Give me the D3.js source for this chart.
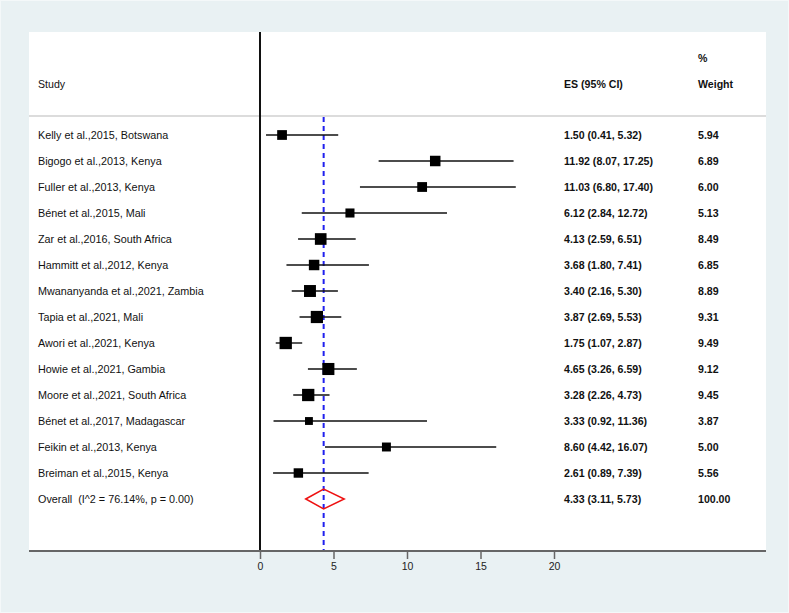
<!DOCTYPE html>
<html><head><meta charset="utf-8">
<script src="https://cdn.jsdelivr.net/npm/d3@7"></script>
<style>body{margin:0;padding:0;background:#e9f1f3;}svg{display:block;} text{white-space:pre;}</style>
</head><body>
<svg id="c" width="789" height="613"></svg>
<script>
const studies = ["Kelly et al.,2015, Botswana","Bigogo et al.,2013, Kenya","Fuller et al.,2013, Kenya","Bénet et al.,2015, Mali","Zar et al.,2016, South Africa","Hammitt et al.,2012, Kenya","Mwananyanda et al.,2021, Zambia","Tapia et al.,2021, Mali","Awori et al.,2021, Kenya","Howie et al.,2021, Gambia","Moore et al.,2021, South Africa","Bénet et al.,2017, Madagascar","Feikin et al.,2013, Kenya","Breiman et al.,2015, Kenya"];
const es = [1.50,11.92,11.03,6.12,4.13,3.68,3.40,3.87,1.75,4.65,3.28,3.33,8.60,2.61];
const lo = [0.41,8.07,6.80,2.84,2.59,1.80,2.16,2.69,1.07,3.26,2.26,0.92,4.42,0.89];
const hi = [5.32,17.25,17.40,12.72,6.51,7.41,5.30,5.53,2.87,6.59,4.73,11.36,16.07,7.39];
const weights = [5.94,6.89,6.00,5.13,8.49,6.85,8.89,9.31,9.49,9.12,9.45,3.87,5.00,5.56];
const overall = {label:"Overall  (I^2 = 76.14%, p = 0.00)", es:4.33, lo:3.11, hi:5.73, w:100.00};
const xTicks = [0,5,10,15,20];

const svg = d3.select("#c");
const font = "'Liberation Sans', Arial, sans-serif";
svg.append("rect").attr("x",0).attr("y",0).attr("width",789).attr("height",613).attr("fill","#e9f1f3");
svg.append("rect").attr("x",0.5).attr("y",0.5).attr("width",788).attr("height",612).attr("fill","none").attr("stroke","#f4f8f9");
const panel = {x0:29, x1:766, y0:32, y1:550};
svg.append("rect").attr("x",panel.x0).attr("y",panel.y0).attr("width",panel.x1-panel.x0).attr("height",panel.y1-panel.y0).attr("fill","#fff");

const x = d3.scaleLinear().domain([0,20]).range([260,554]);
const rows = studies.map((s,i)=>i).concat([studies.length]);
const y = d3.scalePoint().domain(rows).range([135,499]);

// header separator
svg.append("line").attr("x1",panel.x0).attr("x2",panel.x1).attr("y1",116).attr("y2",116).attr("stroke","#dcdcdc").attr("stroke-width",2);

// headers
const hdr = svg.append("g").attr("font-family",font).attr("font-size",10.6).attr("fill","#111");
hdr.append("text").attr("x",38).attr("y",88).text("Study");
hdr.append("text").attr("x",564).attr("y",88).attr("font-weight","bold").text("ES (95% CI)");
hdr.append("text").attr("x",698).attr("y",62).attr("font-weight","bold").text("%");
hdr.append("text").attr("x",698).attr("y",88).attr("font-weight","bold").text("Weight");

// null line
svg.append("line").attr("x1",x(0)).attr("x2",x(0)).attr("y1",panel.y0).attr("y2",panel.y1).attr("stroke","#111").attr("stroke-width",2);

// overall dashed line
svg.append("line").attr("x1",x(overall.es)).attr("x2",x(overall.es)).attr("y1",117).attr("y2",panel.y1)
  .attr("stroke","#2020ee").attr("stroke-width",2).attr("stroke-dasharray","5,4");

// CI lines
const g = svg.append("g");
studies.forEach((s,i)=>{
  g.append("line").attr("x1",x(lo[i])).attr("x2",x(hi[i])).attr("y1",y(i)).attr("y2",y(i)).attr("stroke","#111").attr("stroke-width",1.4);
  const side = 4.0*Math.sqrt(weights[i]);
  g.append("rect").attr("x",x(es[i])-side/2).attr("y",y(i)-side/2).attr("width",side).attr("height",side).attr("fill","#000");
});

// diamond
const yo = y(studies.length);
svg.append("path").attr("d",`M${x(overall.lo)},${yo} L${x(overall.es)},${yo-10} L${x(overall.hi)},${yo} L${x(overall.es)},${yo+10} Z`)
  .attr("fill","none").attr("stroke","#ee1111").attr("stroke-width",1.5);

// text columns
const fmt = d3.format(".2f");
const tg = svg.append("g").attr("font-family",font).attr("fill","#111");
studies.forEach((s,i)=>{
  tg.append("text").attr("x",38).attr("y",y(i)+4).attr("font-size",10.8).text(s);
  tg.append("text").attr("x",564).attr("y",y(i)+4).attr("font-size",10.6).attr("font-weight","bold").text(`${fmt(es[i])} (${fmt(lo[i])}, ${fmt(hi[i])})`);
  tg.append("text").attr("x",698).attr("y",y(i)+4).attr("font-size",10.6).attr("font-weight","bold").text(fmt(weights[i]));
});
tg.append("text").attr("x",38).attr("y",yo+4).attr("font-size",10.8).text(overall.label);
tg.append("text").attr("x",564).attr("y",yo+4).attr("font-size",10.6).attr("font-weight","bold").text(`${fmt(overall.es)} (${fmt(overall.lo)}, ${fmt(overall.hi)})`);
tg.append("text").attr("x",698).attr("y",yo+4).attr("font-size",10.6).attr("font-weight","bold").text(fmt(overall.w));

// axis
const axis = d3.axisBottom(x).tickValues(xTicks).tickSize(8).tickPadding(4).tickFormat(d3.format("d"));
const ag = svg.append("g").attr("transform",`translate(0,${panel.y1+1})`).call(axis);
ag.select(".domain").remove();
ag.append("line").attr("x1",panel.x0).attr("x2",panel.x1).attr("y1",0).attr("y2",0).attr("stroke","#666").attr("stroke-width",2);
ag.selectAll(".tick line").attr("stroke","#666").attr("stroke-width",1.5);
ag.selectAll(".tick text").attr("font-family",font).attr("font-size",10.5).attr("fill","#222");
</script>
</body></html>
